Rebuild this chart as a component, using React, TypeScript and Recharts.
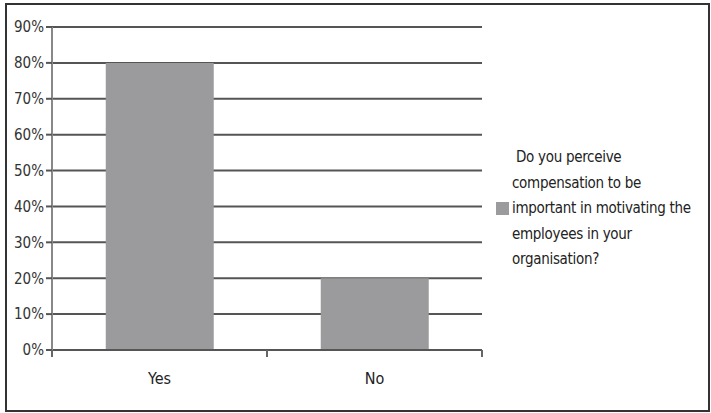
import React from "react";
import { BarChart, Bar, XAxis, YAxis, CartesianGrid, Legend } from "recharts";

const categories = ["Yes", "No"];
const values = [80, 20];
const yTicks = [0, 10, 20, 30, 40, 50, 60, 70, 80, 90];
const legendLines = [
  "\u00a0Do you perceive",
  "compensation to be",
  "important in motivating the",
  "employees in your",
  "organisation?",
];
const seriesName = legendLines.join(" ");

const data = categories.map((c, i) => ({ name: c, value: values[i] }));

const FONT = "'Liberation Sans Narrow', 'DejaVu Sans Condensed', 'Roboto Condensed', sans-serif";
const BAR = "#9b9b9d";

const XTick = (props: any) => {
  const { x, y, payload } = props;
  const off = payload.offset || 0;
  return (
    <g>
      <line x1={x - off} x2={x - off} y1={y - 8} y2={y - 1} stroke="#666" strokeWidth={2} />
      <line x1={x + off} x2={x + off} y1={y - 8} y2={y - 1} stroke="#666" strokeWidth={2} />
      <text x={x} y={y + 26} textAnchor="middle" fontFamily={FONT} fontSize={16} fill="#222">
        {payload.value}
      </text>
    </g>
  );
};

const LegendContent = () => (
  <div
    style={{
      position: "relative",
      fontFamily: FONT,
      fontSize: 15,
      letterSpacing: -0.3,
      color: "#222",
      lineHeight: "25.5px",
    }}
  >
    <div
      style={{ position: "absolute", left: 0, top: 51 + 6, width: 13, height: 13, background: BAR }}
    />
    <div style={{ marginLeft: 16, whiteSpace: "pre" }}>
      {legendLines.map((l, i) => (
        <div key={i}>{l}</div>
      ))}
    </div>
  </div>
);

export default function App() {
  return (
    <div style={{ position: "absolute", left: 0, top: 0, width: 711, height: 413, background: "#fff" }}>
      <div
        style={{
          position: "absolute",
          left: 5,
          top: 3,
          width: 701,
          height: 405,
          border: "2px solid #333",
        }}
      />
      <BarChart
        width={711}
        height={413}
        data={data}
        margin={{ top: 27, right: 229, bottom: 0, left: 0 }}
        barCategoryGap="25%"
      >
        <CartesianGrid vertical={false} stroke="#555" strokeWidth={2} />
        <XAxis
          dataKey="name"
          height={63}
          axisLine={{ stroke: "#555", strokeWidth: 2 }}
          tickLine={false}
          tick={<XTick />}
          interval={0}
        />
        <YAxis
          width={52}
          domain={[0, 90]}
          ticks={yTicks}
          interval={0}
          tickFormatter={(v: number) => `${v}%`}
          axisLine={{ stroke: "#888", strokeWidth: 2 }}
          tickLine={{ stroke: "#555", strokeWidth: 2 }}
          tickSize={6}
          tickMargin={2}
          tick={{ fontFamily: FONT, fontSize: 15, fill: "#333" }}
        />
        <Legend
          layout="horizontal"
          verticalAlign="middle"
          align="center"
          wrapperStyle={{ left: 496, top: 145, width: 215 }}
          content={<LegendContent />}
        />
        <Bar dataKey="value" name={seriesName} fill={BAR} isAnimationActive={false} />
      </BarChart>
    </div>
  );
}
